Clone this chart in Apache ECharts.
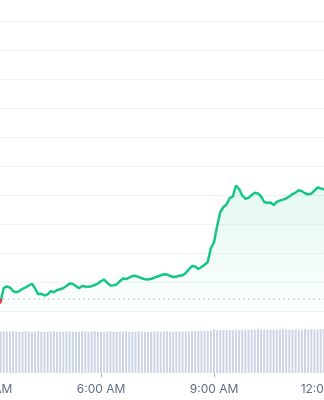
<!DOCTYPE html>
<html>
<head>
<meta charset="utf-8">
<script src="https://cdn.jsdelivr.net/npm/echarts@6/dist/echarts.min.js"></script>
<style>
html,body{margin:0;padding:0;width:324px;height:400px;overflow:hidden;background:#fff;}
#chart{position:absolute;left:-40px;top:0;width:400px;height:400px;}
</style>
</head>
<body>
<div id="chart"></div>
<script>
// Time categories (5-minute steps)
var times = ["3:15","3:20","3:25","3:30","3:35","3:40","3:45","3:50","3:55","4:00",
"4:05","4:10","4:15","4:20","4:25","4:30","4:35","4:40","4:45","4:50","4:55","5:00",
"5:05","5:10","5:15","5:20","5:25","5:30","5:35","5:40","5:45","5:50","5:55","6:00",
"6:05","6:10","6:15","6:20","6:25","6:30","6:35","6:40","6:45","6:50","6:55","7:00",
"7:05","7:10","7:15","7:20","7:25","7:30","7:35","7:40","7:45","7:50","7:55","8:00",
"8:05","8:10","8:15","8:20","8:25","8:30","8:35","8:40","8:45","8:50","8:55","9:00",
"9:05","9:10","9:15","9:20","9:25","9:30","9:35","9:40","9:45","9:50","9:55","10:00",
"10:05","10:10","10:15","10:20","10:25","10:30","10:35","10:40","10:45","10:50","10:55","11:00",
"11:05","11:10","11:15","11:20","11:25","11:30","11:35","11:40","11:45","11:50","11:55","12:00"];

// Price values (arbitrary units)
var price = [20.7,31.0,79.3,84.5,81.0,69.0,64.5,69.0,76.6,81.7,
87.9,94.1,77.9,57.6,59.3,53.4,57.6,69.0,64.5,72.4,
74.8,79.3,86.2,94.8,93.1,86.2,78.3,86.2,84.5,83.4,
85.5,89.7,94.8,103.4,108.6,97.2,87.9,88.6,91.4,102.8,
112.1,110.3,114.8,120.7,121.4,117.2,112.8,109.6,108.6,111.4,
114.8,119.0,123.1,126.5,126.2,120.7,117.2,119.3,121.4,123.4,
131.0,143.8,155.2,153.4,144.8,151.7,159.3,169.0,217.2,236.2,
293.1,341.4,358.6,367.2,389.7,394.1,432.8,420.7,398.3,386.9,
390.7,400.0,407.6,405.2,395.5,375.9,373.1,373.8,365.5,375.9,
381.0,384.1,388.6,394.8,403.4,408.6,416.2,413.1,406.2,402.4,
404.5,415.5,425.9,422.4,420.0,419.0];

// Volume values
var volume = [81,81,82,81,81,82,81,81,81,82,
81,81,81,82,81,81,81,81,82,81,
81,81,82,81,81,81,81,82,81,81,
81,82,81,81,81,81,82,81,81,81,
81,82,81,81,81,82,81,81,81,81,
82,81,81,81,82,81,81,82,81,81,
82,81,82,82,82,82,83,83,83,86,
83,84,84,84,84,84,85,84,85,85,
85,85,85,86,85,85,85,85,85,85,
85,86,85,85,85,85,85,85,86,85,
86,85,86,86,86,86];

var baseline = 41.4;
var yTicks = {min:0, max:1000, interval:100};
var xTicks = {min:180, max:720, interval:180};

function toMin(s){var p=s.split(':');return (+p[0])*60+(+p[1]);}
function fmt(m){var h=Math.floor(m/60),mm=m%60;var ap=h>=12?'PM':'AM';var hh=h%12;if(hh===0)hh=12;return hh+':'+(mm<10?'0':'')+mm+' '+ap;}

var priceData = times.map(function(t,i){return [toMin(t), price[i]];});
var volData = times.map(function(t,i){return [toMin(t), volume[i]];});
var baseData = [[xTicks.min, baseline],[xTicks.max, baseline]];

// Pixel row of the baseline within the chart canvas (grid top 21, height 290)
var baseY = 21 + 290 * (1 - (baseline - yTicks.min) / (yTicks.max - yTicks.min));

var chart = echarts.init(document.getElementById('chart'));
chart.setOption({
  animation:false,
  grid:[
    {left:28, width:339, top:21, height:290},
    {left:28, width:339, top:322, height:51}
  ],
  xAxis:[
    {type:'value', gridIndex:0, min:xTicks.min, max:xTicks.max, interval:xTicks.interval, show:false},
    {type:'value', gridIndex:1, min:xTicks.min, max:xTicks.max, interval:xTicks.interval,
     axisLine:{show:false}, splitLine:{show:false},
     axisTick:{show:true, length:4, lineStyle:{color:'#a7b1c2'}},
     axisLabel:{show:true, margin:10, color:'#616e85', fontSize:12, fontFamily:'Inter, sans-serif', formatter:function(v){return fmt(v);}}}
  ],
  yAxis:[
    {type:'value', gridIndex:0, min:yTicks.min, max:yTicks.max, interval:yTicks.interval,
     axisLine:{show:false}, axisTick:{show:false}, axisLabel:{show:false},
     splitLine:{show:true, lineStyle:{color:'#f0f2f5', width:1}}},
    {type:'value', gridIndex:1, min:0, max:100, show:false, splitLine:{show:false}}
  ],
  series:[
    {type:'line', xAxisIndex:0, yAxisIndex:0, data:priceData, showSymbol:false, symbol:'none', z:3,
     lineStyle:{width:2.5, color:new echarts.graphic.LinearGradient(0,0,0,400,[
       {offset:0, color:'#16c784'},
       {offset:baseY/400, color:'#16c784'},
       {offset:baseY/400, color:'#ea3943'},
       {offset:1, color:'#ea3943'}], true)},
     areaStyle:{color:new echarts.graphic.LinearGradient(0,0,0,1,[
       {offset:0, color:'rgba(22,199,132,0.17)'},
       {offset:1, color:'rgba(22,199,132,0.02)'}])}
    },
    {type:'line', xAxisIndex:0, yAxisIndex:0, data:baseData, showSymbol:false, symbol:'none', silent:true, z:2,
     lineStyle:{color:'#c4cad4', type:[2,3], width:1}},
    {type:'bar', xAxisIndex:1, yAxisIndex:1, data:volData, barWidth:2,
     itemStyle:{color:'#cdd4e4'}}
  ]
});
</script>
</body>
</html>
